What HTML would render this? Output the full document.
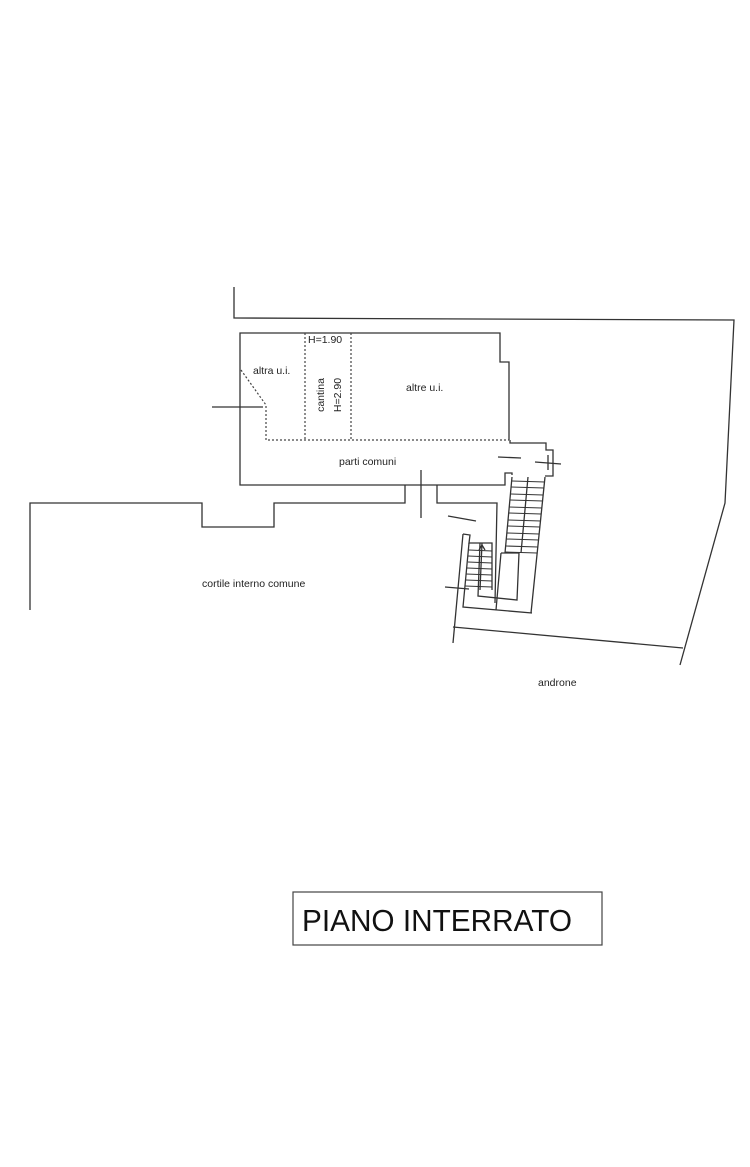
<!DOCTYPE html>
<html><head><style>body{margin:0;background:#fff}svg{display:block}text{font-family:"Liberation Sans",sans-serif;fill:#222}</style></head>
<body>
<svg width="750" height="1167" viewBox="0 0 750 1167" xmlns="http://www.w3.org/2000/svg">
<g fill="none" stroke="#333" stroke-width="1.3">
<polyline points="234,287 234,318 734,320 725,503 680,665"/>
<polyline points="509,440 509,362 500,362 500,333 240,333 240,485 505,485 505,473 512,473 512,475"/>
<polyline points="510,440 510,443 546,443 546,450 553,450 553,476 545,476"/>
<polyline points="405,485 405,503 274,503 274,527 202,527 202,503 30,503 30,610"/>
<polyline points="437,485 437,503 497,503 495,603"/>
<line x1="421" y1="470" x2="421" y2="518"/>
<polyline points="512,477 505,553"/>
<polyline points="528,477 521,553"/>
<polyline points="545,477 531,613"/>
<polyline points="501,553 519,553 517,600 478,596 480,543"/>
<polyline points="501,553 496,610"/>
<polyline points="463,534 470,535 469,543 492,543 492,590"/>
<polyline points="463,534 453,643"/>
<polyline points="469,543 463,607 532,613"/>
<line x1="482" y1="543" x2="480" y2="590"/>
<line x1="453" y1="627" x2="683" y2="648"/>
<line x1="212" y1="407" x2="263" y2="407"/>
<line x1="448" y1="516" x2="476" y2="521"/>
<line x1="445" y1="587" x2="469" y2="589"/>
<line x1="498" y1="457" x2="521" y2="458"/>
<line x1="535" y1="462" x2="561" y2="464"/>
<line x1="548" y1="455" x2="548" y2="470"/>
<polyline points="479,550 482,545 485,550"/>
</g>
<g stroke="#333" stroke-width="1">
<line x1="512" y1="481" x2="545" y2="482"/><line x1="511" y1="487" x2="544" y2="488"/><line x1="511" y1="494" x2="543" y2="495"/><line x1="510" y1="500" x2="543" y2="501"/><line x1="509" y1="507" x2="542" y2="508"/><line x1="509" y1="513" x2="541" y2="514"/><line x1="508" y1="520" x2="541" y2="521"/><line x1="507" y1="526" x2="540" y2="527"/><line x1="507" y1="533" x2="539" y2="534"/><line x1="506" y1="539" x2="539" y2="540"/><line x1="506" y1="546" x2="538" y2="547"/><line x1="505" y1="552" x2="537" y2="553"/>
<line x1="469" y1="550" x2="492" y2="551"/><line x1="468" y1="556" x2="492" y2="557"/><line x1="468" y1="562" x2="492" y2="563"/><line x1="467" y1="568" x2="492" y2="569"/><line x1="466" y1="574" x2="492" y2="575"/><line x1="466" y1="580" x2="492" y2="581"/><line x1="465" y1="586" x2="492" y2="587"/>
</g>
<g fill="none" stroke="#444" stroke-width="1.2" stroke-dasharray="2,2">
<line x1="305" y1="333" x2="305" y2="440"/>
<line x1="351" y1="333" x2="351" y2="440"/>
<polyline points="241,370 266,405 266,440 509,440"/>
</g>
<g font-size="10.5">
<text x="308" y="343">H=1.90</text>
<text x="253" y="374">altra u.i.</text>
<text x="406" y="391">altre u.i.</text>
<text x="339" y="465">parti comuni</text>
<text x="202" y="587">cortile interno comune</text>
<text x="538" y="686">androne</text>
<text transform="translate(324,395) rotate(-90)" text-anchor="middle">cantina</text>
<text transform="translate(341,395) rotate(-90)" text-anchor="middle">H=2.90</text>
</g>
<rect x="293" y="892" width="309" height="53" fill="none" stroke="#444" stroke-width="1.2"/>
<text x="302" y="931" font-size="31" textLength="270" lengthAdjust="spacingAndGlyphs" style="fill:#111">PIANO INTERRATO</text>
</svg>
</body></html>
